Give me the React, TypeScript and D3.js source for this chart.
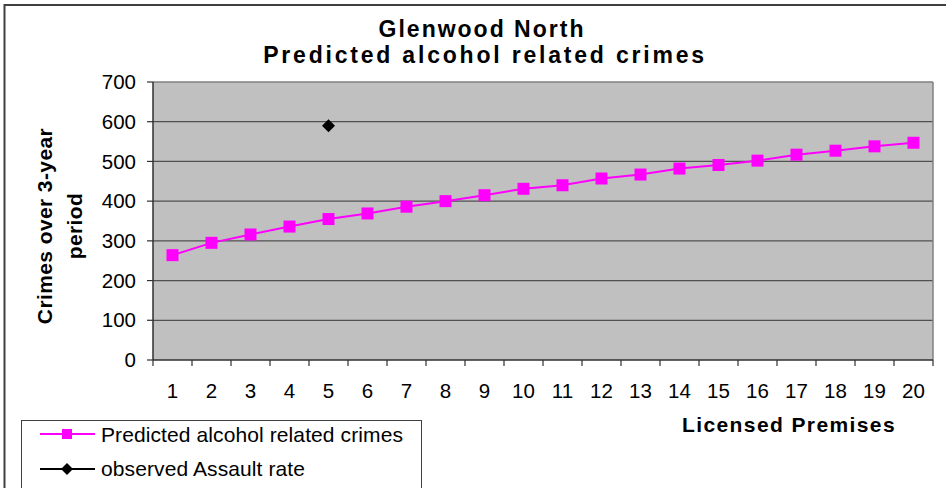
import { useEffect } from 'react';
import * as d3 from 'd3';

const premises = d3.range(1, 21).map(String);
const predicted = [264, 295, 316, 336, 355, 369, 386, 400, 415, 431, 440, 457, 467, 482, 491, 502, 517, 527, 538, 547];
const observed = [{ premises: '5', value: 590 }];
const yTicks = [0, 100, 200, 300, 400, 500, 600, 700];

const FONT = '"Liberation Sans", Arial, sans-serif';

export default function App() {
  useEffect(() => {
    document.body.style.margin = '0';
  }, []);

  const width = 946;
  const height = 488;
  const plot = { left: 153, top: 82, right: 933, bottom: 360 };

  const x = d3.scaleBand<string>().domain(premises).range([plot.left, plot.right]);
  const y = d3.scaleLinear().domain([0, 700]).range([plot.bottom, plot.top]);
  const cx = (p: string) => (x(p) ?? 0) + x.bandwidth() / 2;

  const line = d3
    .line<number>()
    .x((_, i) => cx(premises[i]))
    .y((d) => y(d));

  const diamond = (px: number, py: number, r: number) =>
    `M${px},${py - r}L${px + r},${py}L${px},${py + r}L${px - r},${py}Z`;

  const boundaries = d3.range(0, premises.length + 1).map((i) => plot.left + i * x.bandwidth());

  return (
    <svg width={width} height={height} style={{ display: 'block', fontFamily: FONT }}>
      <rect x={0} y={0} width={width} height={height} fill="#fff" />
      {/* outer chart border */}
      <rect x={4.5} y={5} width={width + 10} height={height + 10} fill="none" stroke="#404040" strokeWidth={2} />

      {/* titles */}
      <text x={482} y={37} textAnchor="middle" fontSize={23} fontWeight="bold" letterSpacing={2} fill="#000">
        Glenwood North
      </text>
      <text x={485} y={63} textAnchor="middle" fontSize={23} fontWeight="bold" letterSpacing={2.8} fill="#000">
        Predicted alcohol related crimes
      </text>

      {/* plot area */}
      <rect x={plot.left} y={plot.top} width={plot.right - plot.left} height={plot.bottom - plot.top} fill="#c0c0c0" />
      {yTicks.slice(1).map((t) => (
        <line key={t} x1={plot.left} x2={plot.right} y1={y(t)} y2={y(t)} stroke={t === 700 ? '#808080' : '#505050'} strokeWidth={t === 700 ? 1.5 : 1.2} />
      ))}
      <line x1={plot.right} x2={plot.right} y1={plot.top} y2={plot.bottom} stroke="#808080" strokeWidth={1.5} />

      {/* y axis */}
      <line x1={plot.left} x2={plot.left} y1={plot.top} y2={plot.bottom} stroke="#303030" strokeWidth={1.5} />
      {yTicks.map((t) => (
        <g key={t}>
          <line x1={plot.left - 6} x2={plot.left} y1={y(t)} y2={y(t)} stroke="#303030" strokeWidth={1.2} />
          <text x={136} y={y(t)} dy="0.35em" textAnchor="end" fontSize={20.5} fill="#000">
            {t}
          </text>
        </g>
      ))}

      {/* x axis */}
      <line x1={plot.left} x2={plot.right} y1={plot.bottom} y2={plot.bottom} stroke="#303030" strokeWidth={1.5} />
      {boundaries.map((bx, i) => (
        <line key={i} x1={bx} x2={bx} y1={plot.bottom} y2={plot.bottom + 6} stroke="#303030" strokeWidth={1.2} />
      ))}
      {premises.map((p) => (
        <text key={p} x={cx(p)} y={398} textAnchor="middle" fontSize={20.5} fill="#000">
          {p}
        </text>
      ))}

      {/* axis titles */}
      <text x={789} y={432} textAnchor="middle" fontSize={21} fontWeight="bold" letterSpacing={1.4} fill="#000">
        Licensed Premises
      </text>
      <g transform="translate(0,226) rotate(-90)">
        <text x={0} y={52} textAnchor="middle" fontSize={21} fontWeight="bold" letterSpacing={0.4} fill="#000">
          Crimes over 3-year
        </text>
        <text x={0} y={82} textAnchor="middle" fontSize={21} fontWeight="bold" letterSpacing={0.4} fill="#000">
          period
        </text>
      </g>

      {/* predicted series */}
      <path d={line(predicted) ?? ''} fill="none" stroke="#ff00ff" strokeWidth={2} />
      {predicted.map((v, i) => (
        <rect key={i} x={cx(premises[i]) - 6} y={y(v) - 6} width={12} height={12} fill="#ff00ff" />
      ))}

      {/* observed */}
      {observed.map((o) => (
        <path key={o.premises} d={diamond(cx(o.premises), y(o.value), 6.5)} fill="#000" />
      ))}

      {/* legend */}
      <rect x={21.5} y={420.5} width={400} height={80} fill="#fff" stroke="#404040" strokeWidth={1} />
      <line x1={40} x2={95} y1={434} y2={434} stroke="#ff00ff" strokeWidth={2} />
      <rect x={62} y={429} width={10} height={10} fill="#ff00ff" />
      <text x={101} y={441.5} fontSize={21} letterSpacing={0.1} fill="#000">
        Predicted alcohol related crimes
      </text>
      <line x1={40} x2={95} y1={469} y2={469} stroke="#000" strokeWidth={2} />
      <path d={diamond(67, 469, 6)} fill="#000" />
      <text x={101} y={476} fontSize={21} letterSpacing={0.1} fill="#000">
        observed Assault rate
      </text>
    </svg>
  );
}
